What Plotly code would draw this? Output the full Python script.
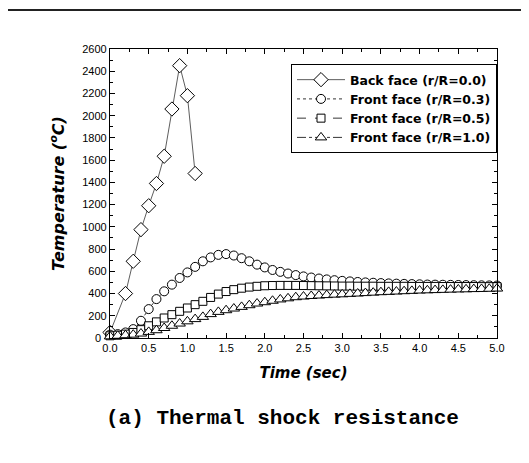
import plotly.graph_objects as go

# ---------------- data ----------------
back_time = [0.0, 0.2, 0.3, 0.4, 0.5, 0.6, 0.7, 0.8, 0.9, 1.0, 1.1]
back_temp = [50, 400, 690, 975, 1190, 1390, 1635, 2060, 2450, 2180, 1480]

front_time = [0.0, 0.1, 0.2, 0.3, 0.4, 0.5, 0.6, 0.7, 0.8, 0.9,
              1.0, 1.1, 1.2, 1.3, 1.4, 1.5, 1.6, 1.7, 1.8, 1.9,
              2.0, 2.1, 2.2, 2.3, 2.4, 2.5, 2.6, 2.7, 2.8, 2.9,
              3.0, 3.1, 3.2, 3.3, 3.4, 3.5, 3.6, 3.7, 3.8, 3.9,
              4.0, 4.1, 4.2, 4.3, 4.4, 4.5, 4.6, 4.7, 4.8, 4.9, 5.0]

front_r03 = [30, 35, 50, 80, 155, 260, 350, 420, 480, 540,
             590, 640, 690, 725, 748, 755, 742, 718, 690, 660,
             635, 612, 595, 580, 566, 554, 544, 535, 527, 520,
             514, 509, 504, 500, 497, 494, 491, 489, 487, 485,
             483, 481, 480, 479, 478, 477, 476, 475, 474, 473, 472]

front_r05 = [20, 25, 35, 50, 75, 110, 145, 180, 210, 240,
             270, 300, 330, 365, 395, 418, 435, 448, 458, 465,
             470, 472, 473, 473, 473, 472, 471, 470, 469, 468,
             467, 467, 466, 466, 466, 465, 465, 465, 465, 464,
             464, 464, 464, 463, 463, 463, 463, 463, 462, 462, 462]

front_r10 = [15, 20, 25, 30, 40, 55, 70, 90, 110, 130,
             150, 170, 190, 215, 235, 250, 265, 280, 295, 310,
             322, 335, 347, 357, 367, 373, 378, 382, 386, 390,
             393, 397, 400, 404, 408, 412, 415, 418, 421, 424,
             427, 429, 431, 433, 435, 437, 438, 440, 441, 443, 445]

series_names = ["Back face (r/R=0.0)", "Front face (r/R=0.3)",
                "Front face (r/R=0.5)", "Front face (r/R=1.0)"]

x_ticks = [0.0, 0.5, 1.0, 1.5, 2.0, 2.5, 3.0, 3.5, 4.0, 4.5, 5.0]
y_ticks = [0, 200, 400, 600, 800, 1000, 1200, 1400, 1600, 1800,
           2000, 2200, 2400, 2600]

caption = "(a) Thermal shock resistance"

# ---------------- figure ----------------
fig = go.Figure()

def add(x, y, name, symbol, size, dash, color="black"):
    fig.add_trace(go.Scatter(
        x=x, y=y, name="<b>" + name + "</b>", mode="lines+markers",
        line=dict(color=color, width=0.8, dash=dash),
        marker=dict(symbol=symbol, size=size, color="white",
                    line=dict(color="black", width=1)),
        cliponaxis=False,
    ))

add(back_time, back_temp, series_names[0], "diamond", 11, "solid", "#333333")
add(front_time, front_r03, series_names[1], "circle", 9, "dot")
add(front_time, front_r05, series_names[2], "square", 8, "dash")
add(front_time, front_r10, series_names[3], "triangle-up", 10, "dashdot")

tick_font = dict(family="Arial", size=11, color="black")

axis_common = dict(
    showline=True, linecolor="black", linewidth=1.2, mirror="allticks",
    ticks="inside", ticklen=5, tickwidth=1, tickcolor="black",
    showgrid=False, zeroline=False,
    tickfont=tick_font,
)

fig.update_xaxes(
    range=[0, 5], tickvals=x_ticks, tickformat=".1f",
    minor=dict(dtick=0.25, ticks="inside", ticklen=3, tickcolor="black", showgrid=False),
    title=dict(text="<b><i>Time (sec)</i></b>",
               font=dict(family="DejaVu Sans", size=15, color="black"),
               standoff=14),
    **axis_common,
)
# the corner label "0" of the y axis is placed as an annotation (plotly drops it at the corner)
fig.update_yaxes(
    range=[0, 2600], tickvals=y_ticks[1:],
    minor=dict(dtick=100, ticks="inside", ticklen=3, tickcolor="black", showgrid=False),
    title=dict(text="<b><i>Temperature (<sup>o</sup>C)</i></b>",
               font=dict(family="DejaVu Sans", size=16, color="black"),
               standoff=13),
    **axis_common,
)

# page body has an 8px margin: compensate so the plot lands where the reference has it
fig.update_layout(
    width=521, height=455,
    margin=dict(l=102, r=32, t=41, b=125),
    paper_bgcolor="white", plot_bgcolor="white",
    showlegend=True,
    legend=dict(
        x=1.0, xanchor="right", y=0.948, yanchor="top",
        bgcolor="white", bordercolor="black", borderwidth=1,
        font=dict(family="DejaVu Sans", size=12.5, color="black"),
        itemwidth=48,
    ),
    shapes=[dict(type="line", xref="paper", yref="paper",
                 x0=-0.27, x1=1.09, y0=1.135, y1=1.135,
                 line=dict(color="#222222", width=2))],
    annotations=[
        dict(text="<b>" + caption + "</b>", xref="paper", yref="paper",
             x=0.447, y=-0.277, xanchor="center", yanchor="middle",
             showarrow=False,
             font=dict(family="Liberation Mono", size=21, color="black")),
        dict(text=str(y_ticks[0]), xref="x", yref="y",
             x=x_ticks[0], y=y_ticks[0], xanchor="right", yanchor="middle",
             xshift=-7, showarrow=False, font=tick_font),
    ],
)

fig.write_html("out.html")
